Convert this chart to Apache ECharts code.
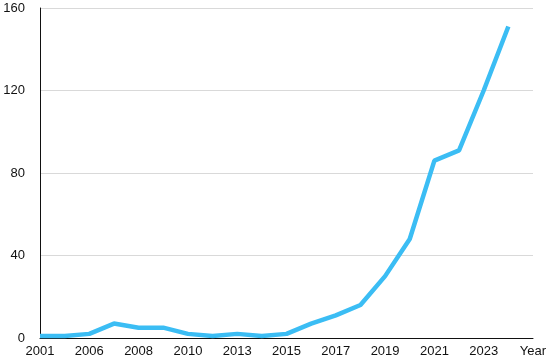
<!DOCTYPE html>
<html>
<head>
<meta charset="utf-8">
<script src="https://cdn.jsdelivr.net/npm/echarts@6/dist/echarts.min.js"></script>
<style>
html,body{margin:0;padding:0;background:#fff;}
#chart{width:550px;height:364px;}
</style>
</head>
<body>
<div id="chart"></div>
<script>
// Category slots (every other one is labelled); the last slot holds the axis title "Year"
const categories = ['2001','2005','2006','2007','2008','2009','2010','2012','2013','2014','2015','2016','2017','2018','2019','2020','2021','2022','2023','2024','Year'];
const values = [1, 1, 2, 7, 5, 5, 2, 1, 2, 1, 2, 7, 11, 16, 30, 48, 86, 91, 120, 151];
const yTicks = [0, 40, 80, 120, 160];

const chart = echarts.init(document.getElementById('chart'), null, {renderer: 'canvas'});
const font = '"Liberation Sans", Arial, Helvetica, sans-serif';
chart.setOption({
  animation: false,
  backgroundColor: '#fff',
  grid: {left: 40, right: 17, top: 8, bottom: 26, containLabel: false},
  xAxis: {
    type: 'category',
    data: categories,
    boundaryGap: false,
    axisLine: {show: true, lineStyle: {color: '#111', width: 1}},
    axisTick: {show: false},
    splitLine: {show: false},
    axisLabel: {
      interval: 1,
      margin: 7,
      color: '#111',
      fontSize: 13,
      fontFamily: font
    }
  },
  yAxis: {
    type: 'value',
    min: yTicks[0],
    max: yTicks[yTicks.length - 1],
    interval: yTicks[1] - yTicks[0],
    axisLine: {show: true, lineStyle: {color: '#111', width: 1}},
    axisTick: {show: false},
    splitLine: {show: true, lineStyle: {color: '#d9d9d9', width: 1}},
    axisLabel: {
      margin: 15,
      color: '#111',
      fontSize: 13,
      fontFamily: font
    }
  },
  series: [{
    type: 'line',
    data: values,
    symbol: 'none',
    lineStyle: {color: '#3BBDF4', width: 4.5},
    itemStyle: {color: '#3BBDF4'},
    z: 3
  }]
});
</script>
</body>
</html>
